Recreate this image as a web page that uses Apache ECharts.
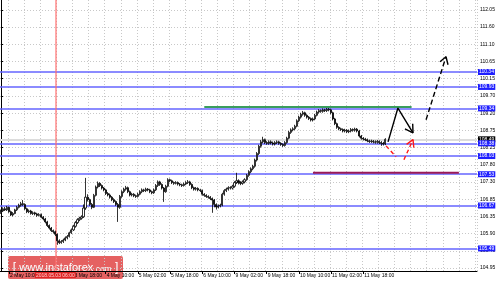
<!DOCTYPE html>
<html><head><meta charset="utf-8">
<script src="https://cdn.jsdelivr.net/npm/echarts@6/dist/echarts.min.js"></script>
<style>html,body{margin:0;padding:0;background:#fff}#c{width:500px;height:284px}</style>
</head><body><div id="c"></div>
<script>
// ---------- data ----------
const barCount = 237; // slots on the time axis (candles + right shift)
const timeTickIndex = [4,20,36,52,68,84,100,116,132,148,164,180];
const timeTickLabels = ['2 May 10:00','3 May 02:00','3 May 18:00','4 May 10:00','5 May 02:00','5 May 18:00','6 May 10:00','9 May 02:00','9 May 18:00','10 May 10:00','11 May 02:00','11 May 18:00'];
const priceTickValues = [104.95,105.42,105.90,106.37,106.84,107.32,107.79,108.26,108.74,109.21,109.68,110.16,110.63,111.10,111.58,112.05];
const priceTickLabels = ['104.95','105.40','105.90','106.35','106.85','107.30','107.80','108.25','108.75','109.20','109.70','110.15','110.65','111.10','111.60','112.05'];
const levelValues = [110.34,109.93,109.34,108.38,108.03,107.53,106.67,105.49];
const levelLabels = ['110.34','109.93','109.34','108.38','108.03','107.53','106.67','105.49'];
const bidValue = 108.49;
const bidLabel = '108.49';
const crossIndex = 27;
const crossLabel = '2018.05.03 06:00';
// candles: [open, close, low, high]
const candles = [
[106.48,106.52,106.44,106.56],[106.52,106.58,106.49,106.62],[106.58,106.55,106.52,106.63],[106.55,106.62,106.52,106.66],
[106.62,106.50,106.47,106.64],[106.50,106.41,106.38,106.53],[106.41,106.45,106.37,106.49],[106.45,106.55,106.43,106.58],
[106.55,106.62,106.52,106.66],[106.62,106.68,106.59,106.72],[106.68,106.72,106.64,106.77],[106.72,106.70,106.66,106.82],
[106.70,106.58,106.55,106.73],[106.58,106.50,106.46,106.61],[106.50,106.52,106.46,106.56],[106.52,106.45,106.42,106.55],
[106.45,106.47,106.41,106.51],[106.47,106.44,106.40,106.50],[106.44,106.40,106.36,106.47],[106.40,106.42,106.37,106.46],
[106.42,106.35,106.32,106.45],[106.35,106.30,106.26,106.38],[106.30,106.22,106.18,106.33],[106.22,106.12,106.08,106.25],
[106.12,106.05,106.01,106.15],[106.05,105.98,105.94,106.08],[105.98,105.95,105.90,106.01],[105.95,105.88,105.83,105.98],
[105.88,105.70,105.59,105.90],[105.70,105.65,105.61,105.74],[105.65,105.68,105.62,105.72],[105.68,105.72,105.64,105.76],
[105.72,105.78,105.69,105.82],[105.78,105.82,105.74,105.86],[105.82,105.92,105.79,105.95],[105.92,106.00,105.89,106.04],
[106.00,106.10,105.97,106.14],[106.10,106.20,106.06,106.24],[106.20,106.28,106.16,106.32],[106.28,106.32,106.24,106.36],
[106.32,106.36,106.28,106.40],[106.36,106.60,106.33,106.70],[106.60,106.90,106.55,107.43],[106.90,106.83,106.78,106.98],
[106.83,106.70,106.66,106.86],[106.70,106.62,106.57,106.74],[106.62,106.95,106.60,106.99],[106.95,107.18,106.92,107.22],
[107.18,107.28,107.14,107.33],[107.28,107.22,107.18,107.31],[107.22,107.15,107.11,107.25],[107.15,107.10,107.06,107.18],
[107.10,107.00,106.96,107.13],[107.00,106.96,106.92,107.04],[106.96,106.90,106.86,107.00],[106.90,106.83,106.79,106.93],
[106.83,106.78,106.74,106.87],[106.78,106.70,106.66,106.81],[106.70,106.62,106.22,106.74],[106.62,106.92,106.58,106.96],
[106.92,107.05,106.88,107.09],[107.05,107.12,107.01,107.16],[107.12,107.16,107.08,107.21],[107.16,107.05,107.01,107.19],
[107.05,106.96,106.92,107.08],[106.96,106.98,106.92,107.02],[106.98,106.94,106.90,107.01],[106.94,106.92,106.88,106.97],
[106.92,106.98,106.89,107.02],[106.98,107.05,106.95,107.09],[107.05,107.10,107.01,107.14],[107.10,107.08,107.04,107.13],
[107.08,107.12,107.04,107.16],[107.12,107.10,107.06,107.15],[107.10,107.05,107.01,107.13],[107.05,107.02,106.98,107.08],
[107.02,107.10,106.99,107.14],[107.10,107.22,107.07,107.26],[107.22,107.32,107.18,107.36],[107.32,107.25,107.21,107.35],
[107.25,107.15,107.11,107.28],[107.15,107.05,106.77,107.18],[107.05,107.20,107.02,107.24],[107.20,107.38,107.17,107.42],
[107.38,107.35,107.31,107.41],[107.35,107.30,107.26,107.38],[107.30,107.28,107.24,107.33],[107.28,107.30,107.25,107.34],
[107.30,107.26,107.22,107.33],[107.26,107.24,107.20,107.29],[107.24,107.22,107.18,107.27],[107.22,107.26,107.19,107.30],
[107.26,107.30,107.23,107.34],[107.30,107.32,107.26,107.37],[107.32,107.25,107.21,107.35],[107.25,107.16,107.12,107.28],
[107.16,107.12,107.08,107.19],[107.12,107.14,107.08,107.18],[107.14,107.10,107.06,107.17],[107.10,107.08,107.04,107.13],
[107.08,106.98,106.94,107.11],[106.98,106.95,106.91,107.01],[106.95,106.92,106.88,106.98],[106.92,106.90,106.86,106.95],
[106.90,106.86,106.82,106.93],[106.86,106.82,106.47,106.89],[106.82,106.70,106.62,106.85],[106.70,106.63,106.56,106.73],
[106.63,106.66,106.59,106.70],[106.66,106.68,106.62,106.72],[106.68,106.98,106.65,107.02],[106.98,107.08,106.94,107.12],
[107.08,107.12,107.04,107.16],[107.12,107.16,107.08,107.20],[107.16,107.15,107.11,107.20],[107.15,107.20,107.11,107.24],
[107.20,107.30,107.16,107.34],[107.30,107.35,107.26,107.57],[107.35,107.30,107.25,107.39],[107.30,107.28,107.23,107.34],
[107.28,107.32,107.24,107.36],[107.32,107.38,107.28,107.42],[107.38,107.50,107.35,107.54],[107.50,107.60,107.46,107.64],
[107.60,107.68,107.56,107.72],[107.68,107.75,107.64,107.79],[107.75,107.92,107.71,107.96],[107.92,108.10,107.88,108.14],
[108.10,108.30,108.06,108.34],[108.30,108.42,108.26,108.47],[108.42,108.48,108.38,108.56],[108.48,108.40,108.36,108.51],
[108.40,108.38,108.34,108.44],[108.38,108.42,108.34,108.46],[108.42,108.39,108.35,108.46],[108.39,108.36,108.32,108.43],
[108.36,108.40,108.32,108.44],[108.40,108.42,108.36,108.46],[108.42,108.38,108.34,108.45],[108.38,108.35,108.31,108.41],
[108.35,108.32,108.28,108.38],[108.32,108.40,108.29,108.44],[108.40,108.52,108.37,108.56],[108.52,108.68,108.49,108.72],
[108.68,108.75,108.64,108.79],[108.75,108.78,108.71,108.82],[108.78,108.85,108.74,108.89],[108.85,109.00,108.82,109.04],
[109.00,109.10,108.96,109.14],[109.10,109.18,109.06,109.22],[109.18,109.22,109.14,109.27],[109.22,109.15,109.11,109.25],
[109.15,109.10,109.06,109.18],[109.10,109.06,109.02,109.13],[109.06,109.02,108.98,109.09],[109.02,109.05,108.98,109.09],
[109.05,109.15,109.02,109.19],[109.15,109.24,109.12,109.28],[109.24,109.28,109.20,109.32],[109.28,109.26,109.22,109.31],
[109.26,109.30,109.22,109.34],[109.30,109.28,109.24,109.33],[109.28,109.32,109.24,109.36],[109.32,109.30,109.26,109.35],
[109.30,109.22,109.18,109.33],[109.22,109.05,109.01,109.25],[109.05,108.92,108.88,109.08],[108.92,108.82,108.78,108.95],
[108.82,108.78,108.74,108.85],[108.78,108.76,108.72,108.81],[108.76,108.72,108.68,108.79],[108.72,108.74,108.68,108.78],
[108.74,108.70,108.66,108.77],[108.70,108.72,108.66,108.76],[108.72,108.76,108.68,108.80],[108.76,108.74,108.70,108.79],
[108.74,108.77,108.70,108.81],[108.77,108.72,108.68,108.80],[108.72,108.58,108.54,108.75],[108.58,108.52,108.48,108.61],
[108.52,108.50,108.46,108.55],[108.50,108.48,108.44,108.53],[108.48,108.45,108.41,108.51],[108.45,108.43,108.39,108.48],
[108.43,108.44,108.39,108.48],[108.44,108.42,108.38,108.47],[108.42,108.41,108.37,108.46],[108.41,108.43,108.37,108.47],
[108.43,108.40,108.36,108.46],[108.40,108.38,108.31,108.44],[108.38,108.36,108.32,108.42],[108.36,108.49,108.33,108.52]
];
// drawn annotations, in [bar index, price]
const greenLine = [[101,109.38],[204,109.38]];
const redLevel = [[155,107.57],[227.5,107.57]];
const blackArrow = [[192.3,108.42],[197.2,109.35],[204.7,108.67]];
const blackArrowHead = [[200.7,108.78],[204.7,108.67],[204.55,108.92]];
const redDash1 = [[191.3,108.31],[196.3,108.01]];
const redDash2 = [[200.2,107.93],[204.7,108.48]];
const redArrowHead = [[201.5,108.35],[204.7,108.48],[205.1,108.26]];
const dashArrow = [[211.2,109.03],[221.1,110.76]];
const dashArrowHead = [[218.1,110.62],[221.1,110.76],[222.1,110.54]];

// ---------- chart ----------
const cats = Array.from({length: barCount}, (_, i) => String(i));
const isTimeTick = i => timeTickIndex.indexOf(i) >= 0;
const font = 'Liberation Sans, Arial, sans-serif';
const gridLine = {color: '#c8c8c8', type: [1, 2], width: 1};

const levelMarks = levelValues.map((v, i) => ({
  yAxis: v,
  lineStyle: {color: '#6464ff', width: 1.5, type: 'solid'},
  label: {show: true, position: 'end', distance: 1, formatter: levelLabels[i], color: '#fff',
          backgroundColor: '#1e1eff', padding: [1, 1, 0, 1], fontSize: 5, fontFamily: font}
}));
levelMarks.unshift({
  yAxis: bidValue,
  lineStyle: {color: '#dcdcdc', width: 2, type: 'solid'},
  label: {show: true, position: 'end', distance: 1, formatter: bidLabel, color: '#fff',
          backgroundColor: '#000', padding: [1, 1, 0, 1], fontSize: 5, fontFamily: font}
});
levelMarks.push({
  xAxis: crossIndex,
  lineStyle: {color: 'rgba(255,110,110,0.6)', width: 2, type: 'solid'},
  label: {show: true, position: 'start', distance: 1, formatter: crossLabel, color: '#ffd0d0',
          backgroundColor: '#e02424', padding: [1, 1, 0, 1], fontSize: 5, fontFamily: font}
});

function seg(data, color, width, type, z) {
  return {type: 'line', xAxisIndex: 1, yAxisIndex: 0, data: data, showSymbol: false, symbol: 'none',
          silent: true, z: z || 5, lineStyle: {color: color, width: width, type: type || 'solid'}};
}

const chart = echarts.init(document.getElementById('c'), null, {renderer: 'canvas'});
chart.setOption({
  animation: false,
  backgroundColor: '#fff',
  grid: {left: 0, right: 23, top: 0, bottom: 13, containLabel: false},
  xAxis: [{
    type: 'category', data: cats, boundaryGap: true,
    axisLine: {show: true, lineStyle: {color: '#000', width: 1}},
    axisTick: {show: true, alignWithLabel: true, interval: (i) => isTimeTick(i), length: 3, lineStyle: {color: '#000'}},
    axisLabel: {interval: (i) => isTimeTick(i), formatter: (v) => timeTickLabels[timeTickIndex.indexOf(+v)] || '',
                align: 'left', fontSize: 5, margin: 2, color: '#000', fontFamily: font, padding: [0, 0, 0, 1]},
    splitLine: {show: true, interval: (i) => (i - 4) % 8 === 0, lineStyle: gridLine}
  }, {
    type: 'value', min: -0.5, max: barCount - 0.5, show: false
  }],
  yAxis: [{
    type: 'value', position: 'right', min: 104.87, max: 112.32, scale: true,
    axisLine: {show: true, lineStyle: {color: '#000', width: 1}},
    axisTick: {show: true, length: 2, customValues: priceTickValues, lineStyle: {color: '#000'}},
    axisLabel: {customValues: priceTickValues, margin: 3, fontSize: 5, color: '#000', fontFamily: font,
      formatter: (v) => {
        let best = 0;
        priceTickValues.forEach((t, i) => { if (Math.abs(t - v) < Math.abs(priceTickValues[best] - v)) best = i; });
        return priceTickLabels[best];
      }},
    splitLine: {show: true, lineStyle: gridLine}
  }],
  series: [
    {
      type: 'candlestick', xAxisIndex: 0, yAxisIndex: 0, data: candles, barWidth: 1.6, z: 3,
      itemStyle: {color: '#fff', color0: '#000', borderColor: '#000', borderColor0: '#000', borderWidth: 0.8},
      markLine: {silent: true, symbol: 'none', animation: false, z: 1, data: levelMarks}
    },
    seg(greenLine, '#3a9d5d', 2, 'solid', 4),
    seg(redLevel, '#9a1a58', 2, 'solid', 4),
    seg(blackArrow, '#000', 1.4),
    seg(blackArrowHead, '#000', 1.4),
    seg(redDash1, '#ff1a1a', 1.4, [4, 3]),
    seg(redDash2, '#ff1a1a', 1.4, [4, 3]),
    seg(redArrowHead, '#ff1a1a', 1.4),
    seg(dashArrow, '#000', 1.4, [5, 3]),
    seg(dashArrowHead, '#000', 1.4)
  ],
  graphic: [{
    type: 'group', left: 8, top: 256, z: 100, silent: true,
    children: [
      {type: 'rect', shape: {x: 0, y: 0, width: 115, height: 23, r: 2}, style: {fill: 'rgba(222,52,52,0.78)'}},
      {type: 'text', x: 57.5, y: 12, style: {
        text: '{a|[} {b|www.instaforex}{c|.com} {a|]}', align: 'center', verticalAlign: 'middle', fill: '#fff',
        rich: {
          a: {fontSize: 12, fill: '#fff', fontFamily: font},
          b: {fontSize: 11, fill: '#fff', fontFamily: font},
          c: {fontSize: 8.5, fill: '#fff', fontFamily: font, padding: [3, 0, 0, 0]}
        }}}
    ]
  }]
});
</script></body></html>
